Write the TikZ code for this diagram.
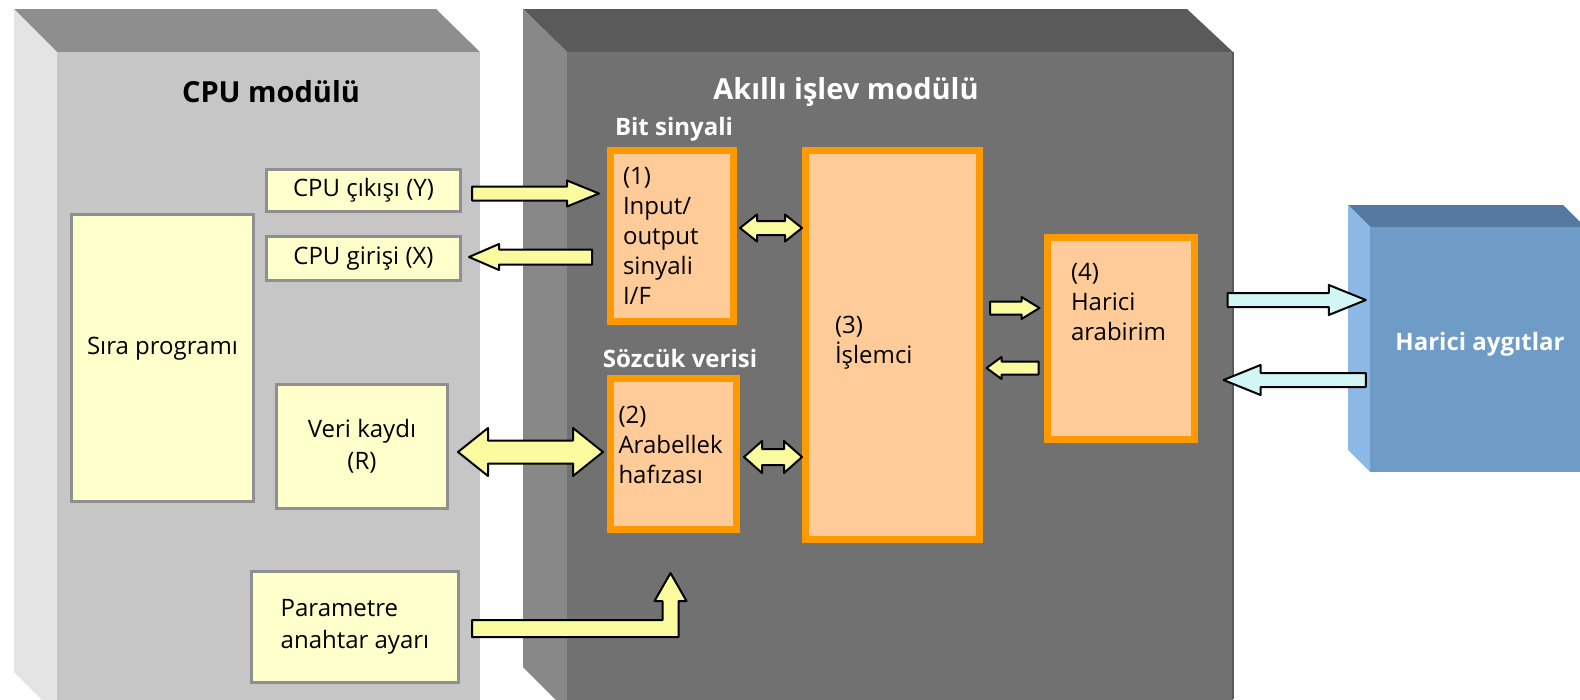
\documentclass[tikz,border=0pt]{standalone}
\usepackage{fontspec}
\setmainfont{Open Sans}
\usetikzlibrary{calc}

\definecolor{cputop}{HTML}{8E8E8E}
\definecolor{cpufront}{HTML}{C6C6C6}
\definecolor{cpuside}{HTML}{E4E4E4}
\definecolor{fmtop}{HTML}{5A5A5A}
\definecolor{fmfront}{HTML}{717171}
\definecolor{fmside}{HTML}{888888}
\definecolor{exttop}{HTML}{55799F}
\definecolor{extfront}{HTML}{6F9BC7}
\definecolor{extside}{HTML}{8CB8E6}
\definecolor{paleyellow}{HTML}{FFFFCC}
\definecolor{boxgrey}{HTML}{8F8F8F}
\definecolor{peach}{HTML}{FFCC99}
\definecolor{fborange}{HTML}{FF9900}
\definecolor{arrowyellow}{HTML}{FAFA9E}
\definecolor{arrowcyan}{HTML}{D2F6F6}

\tikzset{
    cpubox/.style={draw=boxgrey, line width=3, fill=paleyellow, align=center,
        inner sep=0, font=\fontsize{24}{32}\selectfont},
    fbox/.style={draw=fborange, line width=7, fill=peach, align=left,
        inner ysep=0, font=\fontsize{24}{30}\selectfont},
    modtitle/.style={font=\fontsize{29}{34}\selectfont\bfseries},
    sublabel/.style={font=\fontsize{24}{28}\selectfont\bfseries, text=white},
    yarrow/.style={fill=arrowyellow, draw=black, line width=2, line join=round},
    carrow/.style={fill=arrowcyan, draw=black, line width=2, line join=round}
}

% horizontal block arrows: [style]{from}{to}{half body}{half head}{head length}
\newcommand{\blockarrow}[6][yarrow]{%
  \draw[#1] let \p1=#2, \p2=#3, \n1={sign(\x2-\x1)} in
    (\x1,{\y1+#4pt}) -- ({\x2-(\n1*#6pt)},{\y1+#4pt}) -- ({\x2-(\n1*#6pt)},{\y1+#5pt})
    -- (\x2,\y1) -- ({\x2-(\n1*#6pt)},{\y1-#5pt}) -- ({\x2-(\n1*#6pt)},{\y1-#4pt})
    -- (\x1,{\y1-#4pt}) -- cycle;}
\newcommand{\dblarrow}[6][yarrow]{%
  \draw[#1] let \p1=#2, \p2=#3, \n1={sign(\x2-\x1)} in
    (\x1,\y1) -- ({\x1+(\n1*#6pt)},{\y1+#5pt}) -- ({\x1+(\n1*#6pt)},{\y1+#4pt})
    -- ({\x2-(\n1*#6pt)},{\y1+#4pt}) -- ({\x2-(\n1*#6pt)},{\y1+#5pt}) -- (\x2,\y1)
    -- ({\x2-(\n1*#6pt)},{\y1-#5pt}) -- ({\x2-(\n1*#6pt)},{\y1-#4pt})
    -- ({\x1+(\n1*#6pt)},{\y1-#4pt}) -- ({\x1+(\n1*#6pt)},{\y1-#5pt}) -- cycle;}

\begin{document}
\begin{tikzpicture}[x=1pt,y=-1pt]
\useasboundingbox (0,0) rectangle (1580,699);
\clip (0,0) rectangle (1580,699);

% CPU module block
\fill[cputop] (14,9) -- (436,9) -- (480,52) -- (57,52) -- cycle;
\fill[cpuside] (14,9) -- (57,52) -- (57,715) -- (14,672) -- cycle;
\fill[cpufront] (57,52) rectangle (480,715);

% intelligent function module block
\fill[fmtop] (523,9) -- (1187,9) -- (1233,52) -- (567,52) -- cycle;
\fill[fmside] (523,9) -- (567,52) -- (567,711) -- (523,667) -- cycle;
\fill[fmfront] (567,52) rectangle (1233,711);
\draw[fmtop, line width=1.5] (1233,52) -- (1233,699);

% external devices block
\fill[exttop] (1348,205) -- (1563,205) -- (1585,227) -- (1370,227) -- cycle;
\fill[extside] (1348,205) -- (1370,227) -- (1370,472) -- (1348,450) -- cycle;
\node[fill=extfront, minimum width=220, minimum height=245, inner sep=0,
    text=white, text depth=16, font=\fontsize{24}{28}\selectfont\bfseries]
    (ext) at (1480,349.5) {Harici aygıtlar};

\node[modtitle] (cputitle) at (271,92) {CPU modülü};
\node[modtitle, text=white] (fmtitle) at (846,92) {Akıllı işlev modülü};
\node[sublabel] (bitlbl) at (674,129) {Bit sinyali};
\node[sublabel] (wordlbl) at (680,358) {Sözcük verisi};

% CPU side
\node[cpubox, minimum width=194, minimum height=42] (cpuout) at (363.5,190.5) {CPU çıkışı (Y)};
\node[cpubox, minimum width=194, minimum height=44] (cpuin) at (363.5,258.5) {CPU girişi (X)};
\node[cpubox, minimum width=182, minimum height=287, text depth=24] (seq) at (162.5,358) {Sıra programı};
\node[cpubox, minimum width=171, minimum height=124] (reg) at (362,446.5) {Veri kaydı\\(R)};
\node[cpubox, minimum width=207, minimum height=111, align=left] (param) at (355,627) {Parametre\\anahtar ayarı};

% function module side
\node[fbox, minimum width=123, minimum height=171, text width=98, inner xsep=12.5]
    (io) at (672,236) {(1)\\Input/\\output\\sinyali\\I/F};
\node[fbox, minimum width=126, minimum height=151, text width=110, inner xsep=8, text depth=78]
    (buf) at (673.5,454) {(2)\\Arabellek\\hafızası};
\node[fbox, minimum width=174, minimum height=389, text width=115, inner xsep=29.5, text depth=40]
    (proc) at (892.5,345) {(3)\\İşlemci};
\node[fbox, minimum width=147, minimum height=202, text width=100, inner xsep=23.5, text depth=134]
    (ifc) at (1121,338.5) {(4)\\Harici\\arabirim};

% arrows
\blockarrow{($(cpuout.east)+(10,3)$)}{($(io.west)+(-8,0)$)}{7}{13}{32}
\blockarrow{($(io.west)+(-15,21)$)}{($(cpuin.east)+(7,0)$)}{7.5}{13}{30}
\dblarrow{($(io.east)+(3,-8)$)}{(proc.west)}{7}{13.5}{17}
\dblarrow{($(reg.east)+(9,5.5)$)}{($(buf.west)+(-4,0)$)}{11.5}{24}{30}
\dblarrow{($(buf.east)+(4,3)$)}{(proc.west)}{8}{16}{18}
\blockarrow{($(proc.east)+(7,-37)$)}{($(ifc.west)+(-4.5,0)$)}{6.5}{11}{18}
\blockarrow{($(ifc.west)+(-5.5,29.5)$)}{($(proc.east)+(3.5,0)$)}{6.5}{11}{15}
\blockarrow[carrow]{($(ifc.east)+(29.5,-38.5)$)}{($(ext.west)+(-4,0)$)}{7}{15}{37}
\blockarrow[carrow]{($(ext.west)+(-4,30.5)$)}{($(ifc.east)+(25.5,0)$)}{7}{15}{37}

% parameter setting up to the buffer
\draw[yarrow] let \p1=($(param.east)+(12,1.5)$), \p2=($(buf.south)+(-3,40)$) in
    (\x1,{\y1+8.5pt}) -- ({\x2-8pt},{\y1+8.5pt}) -- ({\x2-8pt},{\y2-28pt}) -- ({\x2-16pt},{\y2-28pt})
    -- (\x2,\y2) -- ({\x2+16pt},{\y2-28pt}) -- ({\x2+8pt},{\y2-28pt}) -- ({\x2+8pt},{\y1-8.5pt})
    -- (\x1,{\y1-8.5pt}) -- cycle;
\end{tikzpicture}
\end{document}
